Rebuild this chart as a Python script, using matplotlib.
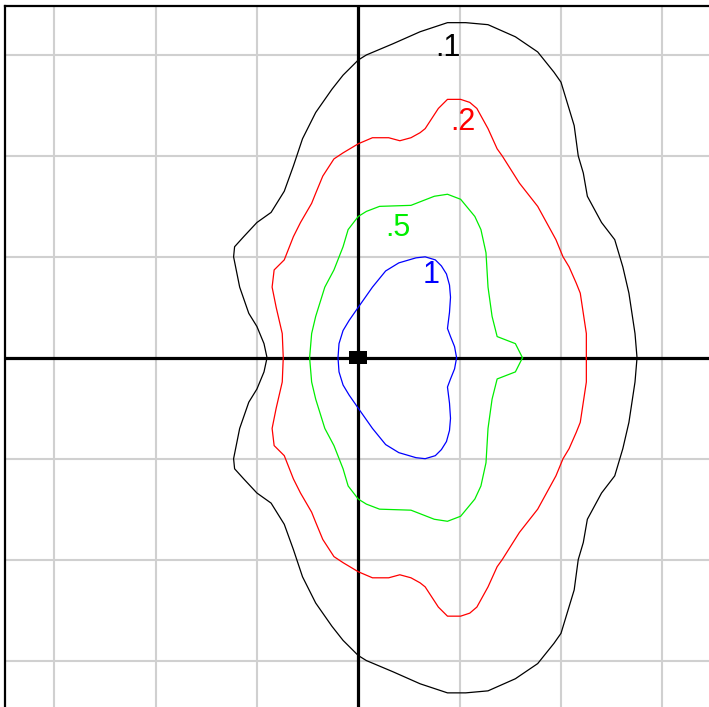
import matplotlib.pyplot as plt
from matplotlib.patches import Rectangle

# contour levels, upper half of each curve (lower half is the mirror image)
levels = [".1", ".2", ".5", "1"]
colors = ["black", "#ff0000", "#00ee00", "#0000ff"]

x_01 = [2.75, 2.73, 2.67, 2.61, 2.53, 2.40, 2.26, 2.22, 2.17, 2.13, 2.00, 1.93, 1.77, 1.55,
        1.28, 1.06, 0.88, 0.61, 0.34, 0.08, 0.00, -0.15, -0.26, -0.42, -0.55, -0.64, -0.73,
        -0.86, -1.00, -1.13, -1.22, -1.23, -1.17, -1.08, -1.00, -0.93, -0.90]
y_01 = [0.00, 0.24, 0.64, 0.90, 1.17, 1.34, 1.60, 1.83, 2.00, 2.30, 2.73, 2.83, 3.03, 3.18,
        3.30, 3.32, 3.32, 3.23, 3.11, 3.00, 2.95, 2.80, 2.66, 2.43, 2.17, 1.90, 1.65,
        1.44, 1.34, 1.20, 1.10, 1.00, 0.70, 0.44, 0.31, 0.14, 0.00]

x_02 = [2.25, 2.25, 2.19, 2.15, 2.08, 2.02, 1.95, 1.77, 1.59, 1.42, 1.37, 1.28, 1.17, 1.10,
        1.01, 0.88, 0.79, 0.66, 0.61, 0.52, 0.41, 0.30, 0.14, 0.00, -0.15, -0.24, -0.35,
        -0.42, -0.46, -0.57, -0.64, -0.73, -0.83, -0.85, -0.81, -0.75, -0.74]
y_02 = [0.00, 0.24, 0.64, 0.74, 0.90, 1.00, 1.17, 1.50, 1.73, 2.00, 2.07, 2.27, 2.47, 2.53,
        2.56, 2.56, 2.47, 2.27, 2.23, 2.18, 2.15, 2.18, 2.18, 2.12, 2.03, 1.97, 1.80,
        1.63, 1.53, 1.34, 1.20, 0.97, 0.87, 0.70, 0.50, 0.24, 0.00]

x_05 = [1.62, 1.55, 1.37, 1.32, 1.28, 1.26, 1.21, 1.15, 1.01, 0.88, 0.75, 0.52, 0.21, 0.08,
        0.00, -0.10, -0.15, -0.24, -0.33, -0.42, -0.46, -0.48]
y_05 = [0.00, 0.14, 0.21, 0.41, 0.70, 1.04, 1.27, 1.40, 1.57, 1.62, 1.60, 1.51, 1.50, 1.45,
        1.40, 1.27, 1.10, 0.87, 0.70, 0.41, 0.24, 0.00]

x_1 = [0.97, 0.95, 0.91, 0.88, 0.90, 0.91, 0.90, 0.87, 0.82, 0.76, 0.66, 0.57, 0.40, 0.27,
       0.14, 0.00, -0.09, -0.15, -0.19, -0.20]
y_1 = [0.00, 0.11, 0.21, 0.29, 0.45, 0.60, 0.72, 0.83, 0.91, 0.97, 1.00, 0.99, 0.94, 0.86,
       0.70, 0.50, 0.37, 0.27, 0.14, 0.00]

curves = [(x_01, y_01), (x_02, y_02), (x_05, y_05), (x_1, y_1)]

label_x = [0.88, 1.03, 0.39, 0.72]
label_y = [3.07, 2.34, 1.29, 0.82]

grid_ticks = [-3, -2, -1, 1, 2, 3]
origin = (0.0, 0.0)

plt.rcParams['font.family'] = ['Liberation Sans', 'DejaVu Sans']

fig = plt.figure(figsize=(7.09, 7.07), dpi=100)
ax = fig.add_axes([4.5 / 709, 0, 1 - 4.5 / 709, 1 - 5.5 / 707])
ax.set_xlim(-3.49, 3.46)
ax.set_ylim(-3.46, 3.49)

for t in grid_ticks:
    ax.axvline(t, color="#d0d0d0", lw=1.5, zorder=0)
    ax.axhline(t, color="#d0d0d0", lw=1.5, zorder=0)
ax.axvline(0, color="black", lw=2.3, zorder=1)
ax.axhline(0, color="black", lw=2.3, zorder=1)

for (xs, ys), c in zip(curves, colors):
    full_x = xs + xs[::-1][1:]
    full_y = ys + [-v for v in ys[::-1][1:]]
    ax.plot(full_x, full_y, color=c, lw=0.9, zorder=2)

for lab, lx, ly, c in zip(levels, label_x, label_y, colors):
    ax.text(lx, ly, lab, color=c, fontsize=22, ha='center', va='center', zorder=3)

ax.add_patch(Rectangle((origin[0] - 0.09, origin[1] - 0.065), 0.18, 0.13,
                       facecolor="black", edgecolor="none", zorder=3))

ax.set_xticks([])
ax.set_yticks([])
for side in ["right", "bottom"]:
    ax.spines[side].set_visible(False)
for side in ["left", "top"]:
    ax.spines[side].set_linewidth(1.6)

fig.savefig("out.png", dpi=100, facecolor="white")
